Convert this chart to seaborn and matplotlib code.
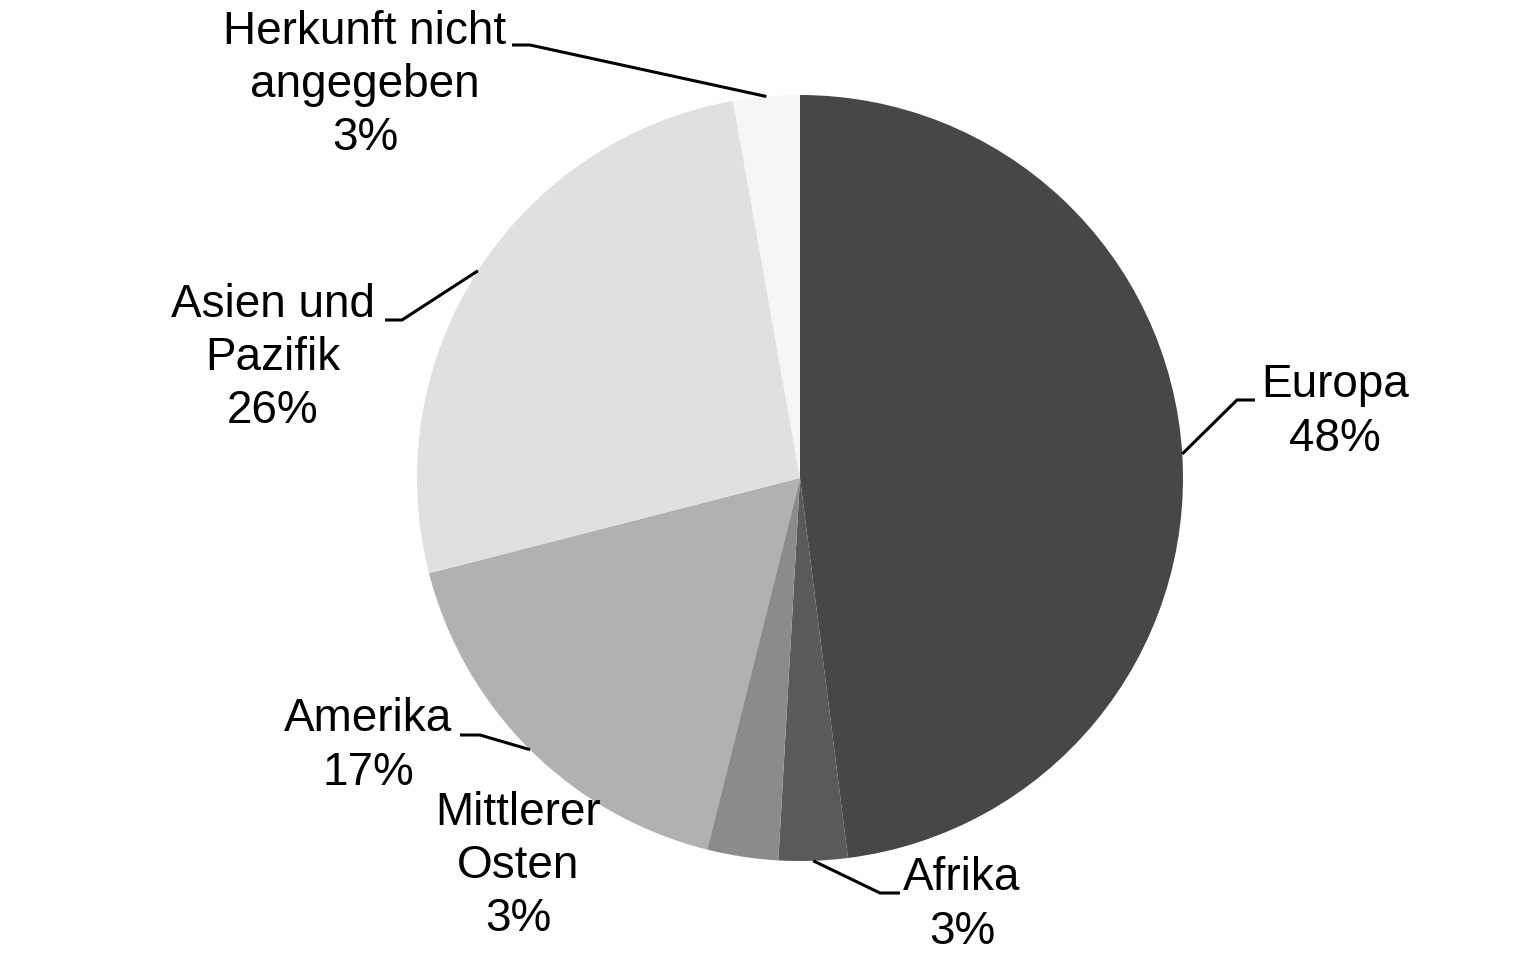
import numpy as np
import matplotlib
matplotlib.use('Agg')
import matplotlib.pyplot as plt
import seaborn as sns

# shares in percent, clockwise from 12 o'clock
regions = ['Europa', 'Afrika', 'Mittlerer\nOsten', 'Amerika',
           'Asien und\nPazifik', 'Herkunft nicht\nangegeben']
shares = [48.0, 2.9, 3.0, 17.1, 26.2, 2.8]
shown_pct = ['48%', '3%', '3%', '17%', '26%', '3%']
colors = ['#474747', '#5a5a5a', '#8b8b8b', '#b1b1b1', '#e0e0e0', '#f6f6f6']

sns.set_theme(style='white')
plt.rcParams['font.family'] = ['Liberation Sans', 'DejaVu Sans']

W, H = 1535, 973
CX, CY, R = 800, 478, 383


def px(x, y):
    # pixel position -> data units (pie radius = 1)
    return (x - CX) / R, (CY - y) / R


fig = plt.figure(figsize=(W / 100, H / 100), dpi=100)
ax = fig.add_axes([0, 0, 1, 1])

wedges, _ = ax.pie(shares, colors=colors, startangle=90, counterclock=False,
                   radius=1, wedgeprops=dict(linewidth=0))

ax.set_aspect('auto')
ax.set_xlim(-CX / R, (W - CX) / R)
ax.set_ylim(-(H - CY) / R, CY / R)
ax.axis('off')

# label centres and leader elbows (pixels); None = no leader line
label_pos = [(1335, 412), (962, 905), (518, 866), (368, 746), (273, 358), (365, 85)]
elbows = [((1237, 400), (1255, 400)),
          ((880, 893), (900, 893)),
          None,
          ((480, 735), (460, 735)),
          ((402, 320), (385, 320)),
          ((530, 45), (512, 45))]

for w, name, pct, pos, elb in zip(wedges, regions, shown_pct, label_pos, elbows):
    x, y = px(*pos)
    ax.text(x, y, f'{name}\n{pct}', ha='center', va='center', fontsize=33,
            color='black', linespacing=1.27)
    if elb is None:
        continue
    theta = np.deg2rad((w.theta1 + w.theta2) / 2)
    sx, sy = np.cos(theta), np.sin(theta)
    (ex, ey), (hx, hy) = px(*elb[0]), px(*elb[1])
    ax.plot([sx, ex, hx], [sy, ey, hy], color='black', lw=2.2,
            solid_capstyle='butt', solid_joinstyle='miter')

fig.savefig('out.png', dpi=100)
